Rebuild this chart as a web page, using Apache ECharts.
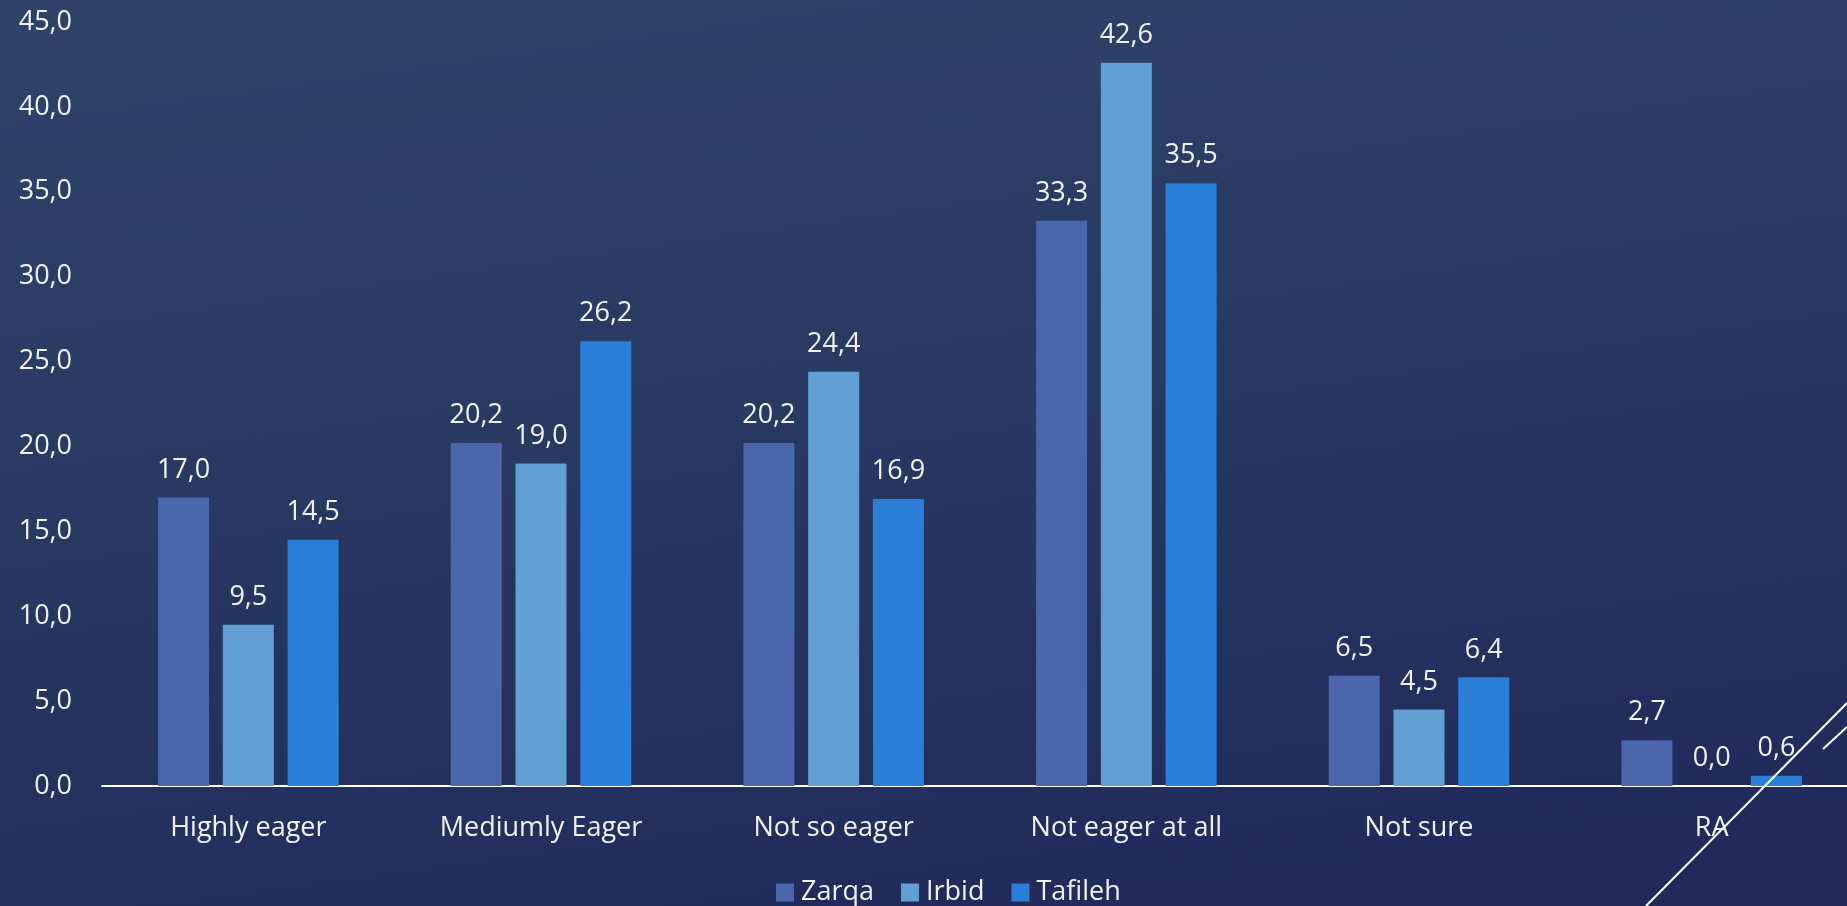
<!DOCTYPE html>
<html><head><meta charset="utf-8">
<style>html,body{margin:0;padding:0;width:1847px;height:906px;overflow:hidden;background:linear-gradient(172deg,#2f4369 0%,#283962 45%,#20285a 100%);}#c{width:1847px;height:906px;}</style>
<script src="https://cdn.jsdelivr.net/npm/echarts@6/dist/echarts.min.js"></script>
</head><body><div id="c"></div>
<script>
const categories = ['Highly eager','Mediumly Eager','Not so eager','Not eager at all','Not sure','RA'];
const zarqa = [17.0, 20.2, 20.2, 33.3, 6.5, 2.7];
const irbid = [9.5, 19.0, 24.4, 42.6, 4.5, 0.0];
const tafileh = [14.5, 26.2, 16.9, 35.5, 6.4, 0.6];
const yTicks = {min: 0, max: 45, interval: 5};

const FONT = '"Open Sans", "Noto Sans", sans-serif';
const TXT = '#f0f2f6';
const FS = 27;
const FW = 400;
const fmt = v => Number(v).toFixed(1).replace('.', ',');

function mk(name, data, color) {
  return {
    name, type: 'bar', data,
    barWidth: 51, barGap: '27%',
    itemStyle: {color},
    label: {show: true, position: 'top', distance: 14, color: TXT, fontFamily: FONT, fontSize: FS, fontWeight: FW,
      formatter: p => fmt(p.value)}
  };
}
const chart = echarts.init(document.getElementById('c'), null, {renderer: 'canvas'});
chart.setOption({
  backgroundColor: 'transparent',
  animation: false,
  grid: {left: 102, width: 1756, top: 22, bottom: 120, containLabel: false, outerBoundsMode: 'none'},
  legend: {
    bottom: -5, left: 771, itemWidth: 18, itemHeight: 18, itemGap: 27,
    icon: 'rect',
    textStyle: {color: TXT, fontFamily: FONT, fontSize: FS, fontWeight: FW, padding: [0, 0, 0, 2]}
  },
  xAxis: {
    type: 'category', data: categories,
    axisLine: {lineStyle: {color: '#ffffff', width: 2}},
    axisTick: {show: false},
    axisLabel: {color: TXT, fontFamily: FONT, fontSize: FS, fontWeight: FW, margin: 29}
  },
  yAxis: {
    type: 'value', min: yTicks.min, max: yTicks.max, interval: yTicks.interval,
    splitLine: {show: false}, axisLine: {show: false}, axisTick: {show: false},
    axisLabel: {color: TXT, fontFamily: FONT, fontSize: FS, fontWeight: FW, margin: 30, formatter: v => fmt(v)}
  },
  series: [
    mk('Zarqa', zarqa, '#4a66ad'),
    mk('Irbid', irbid, '#619fd4'),
    mk('Tafileh', tafileh, '#2a7fd9')
  ],
  graphic: [
    {type: 'line', z: 100, shape: {x1: 1646, y1: 906, x2: 1847, y2: 703}, style: {stroke: '#ffffff', lineWidth: 2}},
    {type: 'line', z: 100, shape: {x1: 1823, y1: 749, x2: 1847, y2: 727}, style: {stroke: '#ffffff', lineWidth: 2}}
  ]
});
</script></body></html>
